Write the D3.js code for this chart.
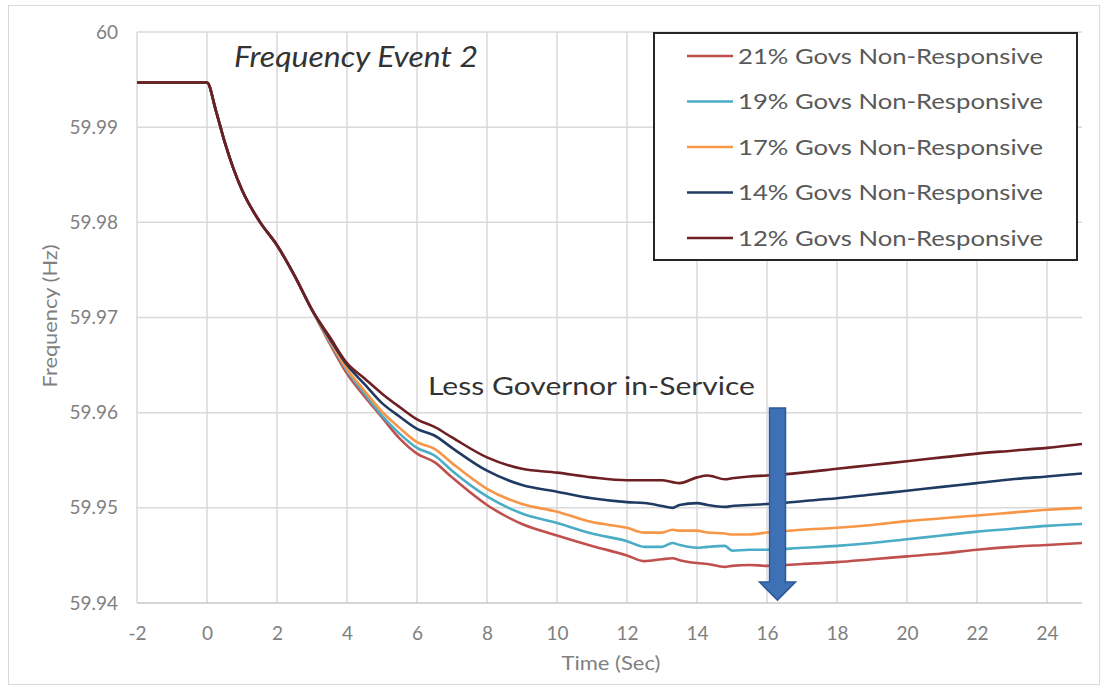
<!DOCTYPE html>
<html>
<head>
<meta charset="utf-8">
<script src="https://cdn.jsdelivr.net/npm/d3@7"></script>
<style>
  body { margin: 0; background: #fff; }
  svg text { font-family: Lato, "Open Sans", sans-serif; }
</style>
</head>
<body>
<svg id="svg" width="1108" height="690"></svg>
<script>
// time axis (sec)
var times = [-2, 0, 0.25, 0.5, 0.75, 1, 1.5, 2, 2.5, 3, 3.5, 4, 4.5, 5, 5.5, 6, 6.5, 7, 8, 9, 10, 11, 12, 12.5, 13, 13.3, 13.5, 14, 14.3, 14.8, 15, 15.5, 16, 17, 18, 19, 20, 21, 22, 23, 24, 25];

// all cases are identical before ~3.5 s
var commonStart = [59.9947, 59.9947, 59.9918, 59.9885, 59.9857, 59.9834, 59.9801, 59.9776, 59.9744, 59.9708];

var gov21 = commonStart.concat([59.9673, 59.9641, 59.9617, 59.9595, 59.9573, 59.9557, 59.9548, 59.9532, 59.9503, 59.9483, 59.9471, 59.9460, 59.9450, 59.9444, 59.9446, 59.9447, 59.9445, 59.9442, 59.9441, 59.9438, 59.9439, 59.9440, 59.9439, 59.9441, 59.9443, 59.9446, 59.9449, 59.9452, 59.9456, 59.9459, 59.9461, 59.9463]);
var gov19 = commonStart.concat([59.9675, 59.9644, 59.9620, 59.9597, 59.9578, 59.9563, 59.9555, 59.9539, 59.9512, 59.9494, 59.9484, 59.9473, 59.9465, 59.9459, 59.9459, 59.9463, 59.9461, 59.9458, 59.9459, 59.9460, 59.9455, 59.9456, 59.9456, 59.9458, 59.9460, 59.9463, 59.9467, 59.9471, 59.9475, 59.9478, 59.9481, 59.9483]);
var gov17 = commonStart.concat([59.9676, 59.9646, 59.9623, 59.9601, 59.9584, 59.9569, 59.9562, 59.9547, 59.9520, 59.9504, 59.9496, 59.9485, 59.9479, 59.9474, 59.9474, 59.9477, 59.9476, 59.9476, 59.9474, 59.9473, 59.9472, 59.9472, 59.9474, 59.9477, 59.9479, 59.9482, 59.9486, 59.9489, 59.9492, 59.9495, 59.9498, 59.9500]);
var gov14 = commonStart.concat([59.9678, 59.9650, 59.9630, 59.9610, 59.9596, 59.9583, 59.9576, 59.9563, 59.9539, 59.9524, 59.9517, 59.9510, 59.9506, 59.9505, 59.9502, 59.9500, 59.9503, 59.9505, 59.9503, 59.9501, 59.9502, 59.9503, 59.9504, 59.9507, 59.9510, 59.9514, 59.9518, 59.9522, 59.9526, 59.9530, 59.9533, 59.9536]);
var gov12 = commonStart.concat([59.9680, 59.9652, 59.9636, 59.9620, 59.9606, 59.9593, 59.9585, 59.9574, 59.9553, 59.9541, 59.9537, 59.9532, 59.9529, 59.9529, 59.9529, 59.9527, 59.9526, 59.9532, 59.9534, 59.9530, 59.9531, 59.9533, 59.9534, 59.9537, 59.9541, 59.9545, 59.9549, 59.9553, 59.9557, 59.9560, 59.9563, 59.9567]);

var seriesNames = ["21% Govs Non-Responsive", "19% Govs Non-Responsive", "17% Govs Non-Responsive", "14% Govs Non-Responsive", "12% Govs Non-Responsive"];
var seriesValues = [gov21, gov19, gov17, gov14, gov12];
var seriesColors = ["#c0504d", "#4bacc6", "#f79646", "#1f3b63", "#6e1f22"];

var xTicks = [-2, 0, 2, 4, 6, 8, 10, 12, 14, 16, 18, 20, 22, 24];
var yTicks = [59.94, 59.95, 59.96, 59.97, 59.98, 59.99, 60];

var arrowTime = 16.3;

var svg = d3.select("#svg");

// chart frame
svg.append("rect")
  .attr("x", 8.5).attr("y", 5.5)
  .attr("width", 1091).attr("height", 679)
  .attr("fill", "#fff")
  .attr("stroke", "#d9d9d9");

var plot = {left: 137, right: 1082, top: 32, bottom: 603};

var xScale = d3.scaleLinear().domain([-2, 25]).range([plot.left, plot.right]);
var yScale = d3.scaleLinear().domain([59.94, 60]).range([plot.bottom, plot.top]);

// grid
var grid = svg.append("g");
grid.selectAll(".vgrid")
  .data(xTicks)
  .enter().append("line")
  .attr("x1", d => xScale(d)).attr("x2", d => xScale(d))
  .attr("y1", plot.top).attr("y2", plot.bottom)
  .attr("stroke", "#d9d9d9").attr("stroke-width", 1.5);
grid.selectAll(".hgrid")
  .data(yTicks)
  .enter().append("line")
  .attr("x1", plot.left).attr("x2", plot.right)
  .attr("y1", d => yScale(d)).attr("y2", d => yScale(d))
  .attr("stroke", d => d === 59.94 ? "#c8c8c8" : "#d9d9d9").attr("stroke-width", 1.5);

// axes (labels only, the lines come from the grid)
var xAxis = svg.append("g")
  .attr("transform", "translate(0," + plot.bottom + ")")
  .call(d3.axisBottom(xScale).tickValues(xTicks).tickSize(0).tickPadding(24)
    .tickFormat(d => String(d)));
var yAxis = svg.append("g")
  .attr("transform", "translate(" + plot.left + ",0)")
  .call(d3.axisLeft(yScale).tickValues(yTicks).tickSize(0).tickPadding(19)
    .tickFormat(d => d === 60 ? "60" : d3.format(".2f")(d)));
[xAxis, yAxis].forEach(function(a){
  a.select(".domain").remove();
  a.selectAll("text").attr("fill", "#808080").attr("font-size", 19)
    .style("font-family", "Lato, 'Open Sans', sans-serif");
});

svg.append("text")
  .attr("x", 611).attr("y", 670)
  .attr("text-anchor", "middle")
  .attr("fill", "#808080").attr("font-size", 20)
  .attr("textLength", 99).attr("lengthAdjust", "spacingAndGlyphs")
  .text("Time (Sec)");
svg.append("text")
  .attr("transform", "translate(57,316) rotate(-90)")
  .attr("text-anchor", "middle")
  .attr("fill", "#808080").attr("font-size", 19)
  .attr("textLength", 143).attr("lengthAdjust", "spacingAndGlyphs")
  .text("Frequency (Hz)");

// lines
var line = d3.line()
  .x((d, i) => xScale(times[i]))
  .y(d => yScale(d))
  .curve(d3.curveMonotoneX);

svg.append("g").selectAll("path")
  .data(seriesValues)
  .enter().append("path")
  .attr("d", d => line(d))
  .attr("fill", "none")
  .attr("stroke", (d, i) => seriesColors[i])
  .attr("stroke-width", 2.6);

// title inside plot
svg.append("text")
  .attr("x", 234).attr("y", 67)
  .attr("fill", "#333").attr("font-size", 28)
  .attr("font-style", "italic")
  .attr("textLength", 244).attr("lengthAdjust", "spacingAndGlyphs")
  .text("Frequency Event 2");

// annotation
svg.append("text")
  .attr("x", 428).attr("y", 395)
  .attr("fill", "#333").attr("font-size", 25)
  .attr("textLength", 327).attr("lengthAdjust", "spacingAndGlyphs")
  .text("Less Governor in-Service");

var shaftW = 8 / 35, headW = 18 / 35;
var arrowPts = [
  [arrowTime - shaftW, 59.9605],
  [arrowTime + shaftW, 59.9605],
  [arrowTime + shaftW, 59.9422],
  [arrowTime + headW, 59.9422],
  [arrowTime, 59.9403],
  [arrowTime - headW, 59.9422],
  [arrowTime - shaftW, 59.9422]
];
svg.append("polygon")
  .attr("points", arrowPts.map(p => xScale(p[0]) + "," + yScale(p[1])).join(" "))
  .attr("fill", "#3e70b5")
  .attr("stroke", "#2d5a96")
  .attr("stroke-width", 1.5);

// legend
var legend = svg.append("g");
legend.append("rect")
  .attr("x", 654).attr("y", 33)
  .attr("width", 423).attr("height", 227)
  .attr("fill", "#fff")
  .attr("stroke", "#262626").attr("stroke-width", 2);
var items = legend.selectAll(".item")
  .data(seriesNames)
  .enter().append("g")
  .attr("transform", (d, i) => "translate(0," + (56 + i * 45.5) + ")");
items.append("line")
  .attr("x1", 687).attr("x2", 733)
  .attr("stroke", (d, i) => seriesColors[i])
  .attr("stroke-width", 2.5);
items.append("text")
  .attr("x", 738).attr("y", 7.5)
  .attr("fill", "#595959").attr("font-size", 21)
  .attr("textLength", 305).attr("lengthAdjust", "spacingAndGlyphs")
  .text(d => d);
</script>
</body>
</html>
